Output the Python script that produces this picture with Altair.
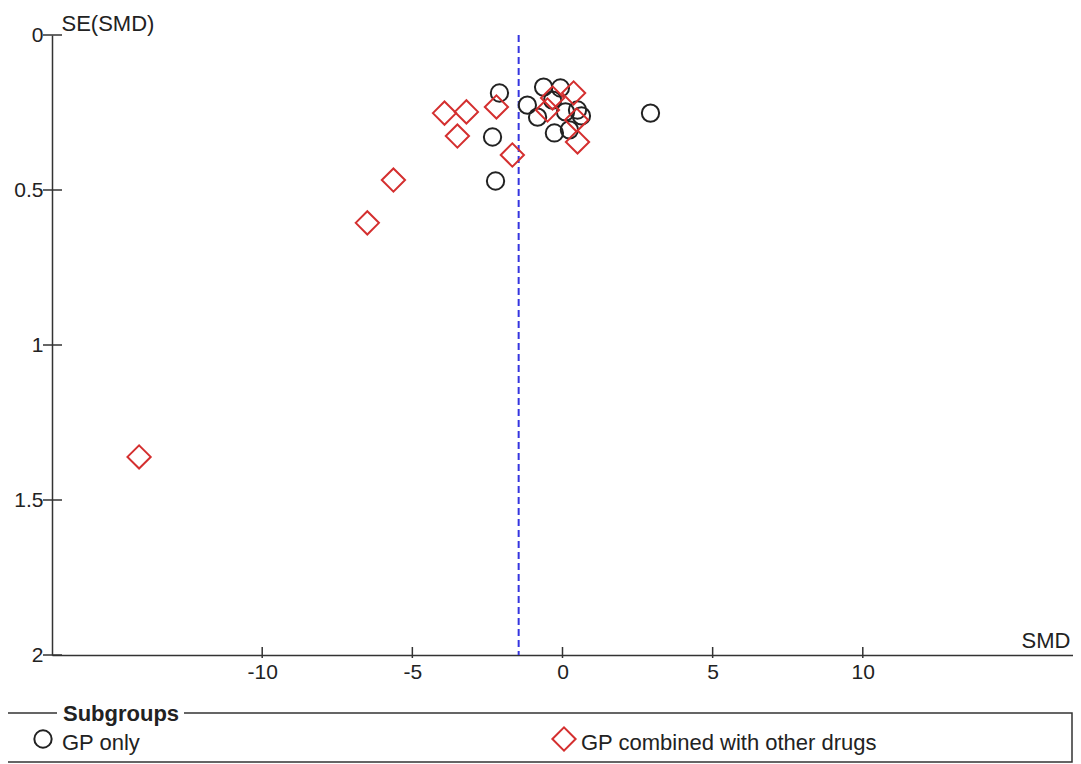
import altair as alt
import pandas as pd

# ---- data ----
groups = ["GP only", "GP combined with other drugs"]

gp_smd = [-2.10, -2.33, -2.23, -1.17, -0.83, -0.63, -0.07, -0.33, -0.27, 0.23, 0.10, 0.50, 0.63, 2.93]
gp_se = [0.187, 0.329, 0.471, 0.226, 0.265, 0.168, 0.171, 0.210, 0.316, 0.306, 0.248, 0.242, 0.261, 0.252]

combo_smd = [-3.93, -3.20, -3.50, -2.20, -1.67, -5.63, -6.50, -14.10, -0.33, -0.50, 0.37, 0.47, 0.50]
combo_se = [0.252, 0.248, 0.326, 0.232, 0.387, 0.468, 0.606, 1.361, 0.203, 0.242, 0.187, 0.274, 0.345]

pooled_smd = [-1.46]
x_ticks = [-10, -5, 0, 5, 10]
y_ticks = [0, 0.5, 1, 1.5, 2]
x_domain = [-17, 17]
y_domain = [0, 2]

df = pd.concat([
    pd.DataFrame({"smd": gp_smd, "se": gp_se, "group": groups[0]}),
    pd.DataFrame({"smd": combo_smd, "se": combo_se, "group": groups[1]}),
], ignore_index=True)

W, H = 1021, 620
FONT = "Liberation Sans"
FS = 21      # tick labels
FT = 22      # titles / legend text
AX = "#333333"

xscale = alt.Scale(domain=x_domain, nice=False, zero=False)
yscale = alt.Scale(domain=y_domain, reverse=True, nice=False, zero=False)
shape_scale = alt.Scale(domain=groups, range=["circle", "diamond"])
color_scale = alt.Scale(domain=groups, range=["#222222", "#d42f2f"])
size_scale = alt.Scale(domain=groups, range=[300, 540])

x_axis = alt.Axis(values=x_ticks, title="SMD", grid=False, labelExpr="datum.value",
                  tickSize=0, labelPadding=6, labelFont=FONT, labelFontSize=FS, labelColor="#222",
                  titleFont=FONT, titleFontSize=FT, titleFontWeight="normal", titleColor="#222",
                  titleAngle=0, titleAlign="right", titleBaseline="alphabetic",
                  titleX=W - 3, titleY=-8, domainColor=AX, domainWidth=1.5)
y_axis = alt.Axis(values=y_ticks, title="SE(SMD)", grid=False, labelExpr="datum.value",
                  tickSize=0, labelPadding=9, labelFont=FONT, labelFontSize=FS, labelColor="#222",
                  titleFont=FONT, titleFontSize=FT, titleFontWeight="normal", titleColor="#222",
                  titleAngle=0, titleAlign="left", titleBaseline="alphabetic",
                  titleX=9, titleY=-5, domainColor=AX, domainWidth=1.5)

points = alt.Chart(df).mark_point(filled=False, strokeWidth=2, opacity=1).encode(
    x=alt.X("smd:Q", scale=xscale, axis=x_axis),
    y=alt.Y("se:Q", scale=yscale, axis=y_axis),
    shape=alt.Shape("group:N", scale=shape_scale, legend=None),
    color=alt.Color("group:N", scale=color_scale, legend=None),
    size=alt.Size("group:N", scale=size_scale, legend=None),
)

pooled = alt.Chart(pd.DataFrame({"smd": pooled_smd})).mark_rule(
    color="#3535e0", strokeDash=[7, 4], strokeWidth=2
).encode(x="smd:Q", y=alt.value(0), y2=alt.value(H))

xtick_marks = alt.Chart(pd.DataFrame({"smd": x_ticks})).mark_rule(color=AX, strokeWidth=1.5).encode(
    x="smd:Q", y=alt.value(H - 8), y2=alt.value(H + 3))
ytick_marks = alt.Chart(pd.DataFrame({"se": y_ticks})).mark_rule(color=AX, strokeWidth=1.5).encode(
    y="se:Q", x=alt.value(-9), x2=alt.value(10))

# ---- legend box drawn as marks ----
LT, LB = 678, 727
box = alt.Chart(pd.DataFrame({"k": [0]})).mark_rect(fill="white", stroke=AX, strokeWidth=1.5).encode(
    x=alt.value(-47), x2=alt.value(1020), y=alt.value(LT), y2=alt.value(LB))
title_bg = alt.Chart(pd.DataFrame({"k": [0]})).mark_rect(fill="white").encode(
    x=alt.value(5), x2=alt.value(132), y=alt.value(LT - 4), y2=alt.value(LT + 4))
title_txt = alt.Chart(pd.DataFrame({"t": ["Subgroups"]})).mark_text(
    font=FONT, fontSize=FT, fontWeight="bold", align="left", baseline="middle", color="#222"
).encode(text="t:N", x=alt.value(11), y=alt.value(LT + 1))

legend_layers = []
for g, sx, tx in [(groups[0], -9, 10), (groups[1], 512, 529)]:
    gdf = pd.DataFrame({"group": [g]})
    legend_layers.append(alt.Chart(gdf).mark_point(filled=False, strokeWidth=2, opacity=1).encode(
        x=alt.value(sx), y=alt.value(704),
        shape=alt.Shape("group:N", scale=shape_scale, legend=None),
        color=alt.Color("group:N", scale=color_scale, legend=None),
        size=alt.Size("group:N", scale=size_scale, legend=None)))
    legend_layers.append(alt.Chart(gdf).mark_text(
        font=FONT, fontSize=FT, align="left", baseline="middle", color="#222"
    ).encode(text="group:N", x=alt.value(tx), y=alt.value(708)))

chart = alt.layer(
    pooled, xtick_marks, ytick_marks, points, box, title_bg, title_txt, *legend_layers
).properties(
    width=W, height=H,
    background="white",
    autosize=alt.AutoSizeParams(type="none"),
    padding={"left": 44, "top": 27, "right": 0, "bottom": 108},
).configure_view(stroke="transparent", strokeWidth=0).configure_axis(grid=False)

chart.save("out.html", embed_options={"renderer": "svg", "actions": False})
